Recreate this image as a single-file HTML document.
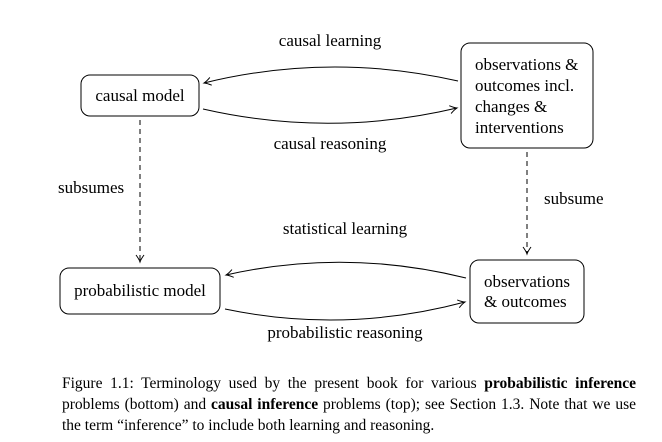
<!DOCTYPE html>
<html><head><style>
body{margin:0;background:#fff;width:662px;height:442px;position:relative;overflow:hidden;font-family:"Liberation Serif",serif;color:#000}
.l{position:absolute;left:62px;width:574px;font-size:15.5px;line-height:18px;white-space:nowrap;text-align:justify;text-align-last:justify}
</style></head><body>
<svg width="662" height="360" style="position:absolute;left:0;top:0" font-family="Liberation Serif, serif" font-size="17">
<defs><marker id="a" markerWidth="10" markerHeight="10" refX="8" refY="5" orient="auto" markerUnits="userSpaceOnUse"><path d="M1,1 Q5,4 8,5 Q5,6 1,9" fill="none" stroke="#000" stroke-width="1"/></marker></defs>
<g fill="none" stroke="#000" stroke-width="1">
<rect x="81" y="75" width="118" height="41" rx="9"/>
<rect x="461" y="43" width="132" height="105" rx="9"/>
<rect x="60" y="268" width="160" height="46" rx="9"/>
<rect x="470" y="260" width="114" height="63" rx="9"/>
<path d="M458,81 Q330,52 204,83" marker-end="url(#a)"/>
<path d="M203,109 Q330,138 457,108" marker-end="url(#a)"/>
<path d="M466,278 Q345,248 226,275" marker-end="url(#a)"/>
<path d="M225,309 Q345,334 465,302" marker-end="url(#a)"/>
<path d="M140,120 V262" stroke-dasharray="5,4" marker-end="url(#a)"/>
<path d="M527,152 V254" stroke-dasharray="5,4" marker-end="url(#a)"/>
</g>
<g text-anchor="middle">
<text x="140" y="101">causal model</text>
<text x="140" y="296">probabilistic model</text>
<text x="330" y="46">causal learning</text>
<text x="330" y="149">causal reasoning</text>
<text x="345" y="234">statistical learning</text>
<text x="345" y="338">probabilistic reasoning</text>
</g>
<text x="475" y="70">observations &amp;</text>
<text x="475" y="91">outcomes incl.</text>
<text x="475" y="112">changes &amp;</text>
<text x="475" y="133">interventions</text>
<text x="484" y="287">observations</text>
<text x="484" y="307">&amp; outcomes</text>
<text x="58" y="193">subsumes</text>
<text x="544" y="204">subsume</text>
</svg>
<div class="l" style="top:375px">Figure 1.1: Terminology used by the present book for various <b>probabilistic inference</b></div>
<div class="l" style="top:396px">problems (bottom) and <b>causal inference</b> problems (top); see Section 1.3. Note that we use</div>
<div class="l" style="top:417px;text-align-last:left">the term “inference” to include both learning and reasoning.</div>
</body></html>
